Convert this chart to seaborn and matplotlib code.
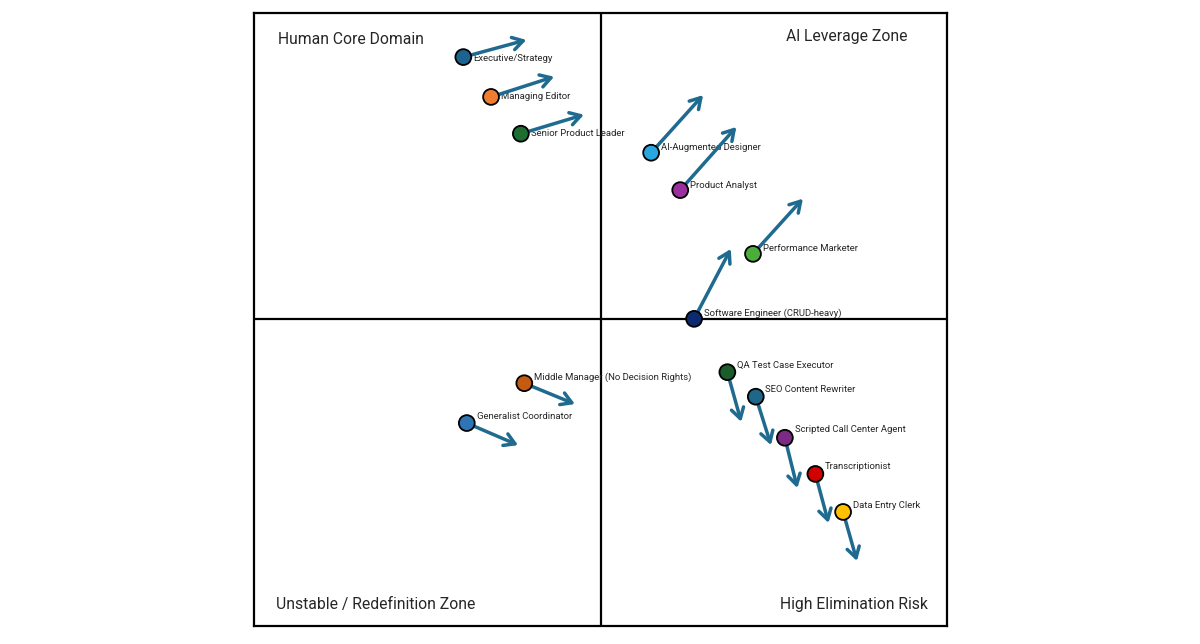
import matplotlib
matplotlib.use("Agg")
import matplotlib.pyplot as plt
import seaborn as sns
import pandas as pd

# roles, current position and projected position (0-10 scale, midlines at 5)
roles = [
    "Executive/Strategy", "Managing Editor", "Senior Product Leader",
    "AI-Augmented Designer", "Product Analyst", "Performance Marketer",
    "Software Engineer (CRUD-heavy)", "Middle Manager (No Decision Rights)",
    "Generalist Coordinator", "QA Test Case Executor", "SEO Content Rewriter",
    "Scripted Call Center Agent", "Transcriptionist", "Data Entry Clerk",
]
x_now = [3.02, 3.42, 3.85, 5.73, 6.15, 7.20, 6.35, 3.90, 3.07, 6.83, 7.24, 7.66, 8.10, 8.50]
y_now = [9.28, 8.63, 8.03, 7.72, 7.11, 6.07, 5.01, 3.96, 3.31, 4.14, 3.74, 3.07, 2.48, 1.86]
x_next = [3.93, 4.33, 4.76, 6.48, 6.96, 7.92, 6.88, 4.63, 3.81, 7.03, 7.46, 7.84, 8.29, 8.70]
y_next = [9.56, 8.96, 8.34, 8.66, 8.14, 6.97, 6.15, 3.62, 2.95, 3.33, 2.95, 2.25, 1.68, 1.06]
colors = ["#1d6391", "#ed7d31", "#1e6e32", "#2aa7df", "#9b2f9e", "#4cae3a", "#0d2a6e",
          "#c55a11", "#2e75b6", "#1a5c2a", "#1f6688", "#7d2a84", "#d00000", "#ffc000"]

quadrants = ["Human Core Domain", "Al Leverage Zone",
             "Unstable / Redefinition Zone", "High Elimination Risk"]

ARROW = "#1f6a8f"
# vertical nudge of each label (points)
label_dy = [-1, 0, 0, 4, 3, 4, 4, 4, 5, 5, 5, 6, 5, 5]

df = pd.DataFrame({"role": roles, "x": x_now, "y": y_now})

sns.set_style("white")
plt.rcParams["font.family"] = ["Liberation Sans Narrow", "Roboto", "DejaVu Sans"]

fig = plt.figure(figsize=(12, 6.44), dpi=100)
ax = fig.add_axes([0.2117, 0.028, 0.5775, 0.9519])
ax.set_xlim(0, 10)
ax.set_ylim(0, 10)

ax.axvline(5, color="black", linewidth=1.6, zorder=1)
ax.axhline(5, color="black", linewidth=1.6, zorder=1)

for name, x0, y0, dy in zip(roles, x_now, y_now, label_dy):
    ax.annotate(name, (x0, y0), xytext=(7, dy), textcoords="offset points",
                fontsize=6.8, va="center", ha="left", zorder=2)

for x0, y0, x1, y1 in zip(x_now, y_now, x_next, y_next):
    ax.annotate("", xy=(x1, y1), xytext=(x0, y0),
                arrowprops=dict(arrowstyle="->,head_length=0.75,head_width=0.45",
                                color=ARROW, lw=2.5, shrinkA=0, shrinkB=0),
                zorder=3)

sns.scatterplot(data=df, x="x", y="y", hue="role", palette=colors, s=130,
                edgecolor="black", linewidth=1.3, legend=False, ax=ax, zorder=4)

ax.text(0.35, 9.57, quadrants[0], fontsize=11.3, ha="left", va="center")
ax.text(9.43, 9.62, quadrants[1], fontsize=11.3, ha="right", va="center")
ax.text(0.32, 0.35, quadrants[2], fontsize=11.3, ha="left", va="center")
ax.text(9.73, 0.35, quadrants[3], fontsize=11.3, ha="right", va="center")

ax.set_xticks([])
ax.set_yticks([])
ax.set_xlabel("")
ax.set_ylabel("")
for spine in ax.spines.values():
    spine.set_visible(True)
    spine.set_color("black")
    spine.set_linewidth(1.6)

fig.savefig("out.png", dpi=100, facecolor="white")
